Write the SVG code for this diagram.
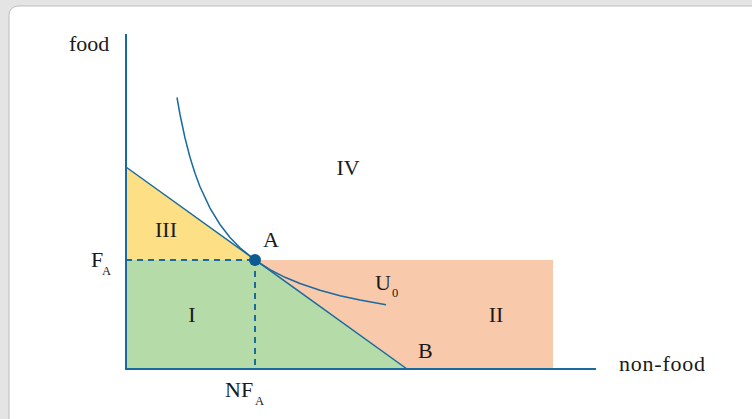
<svg xmlns="http://www.w3.org/2000/svg" width="752" height="419" viewBox="0 0 752 419">
<style>
.t{font-family:"Liberation Serif","DejaVu Serif",serif;fill:#1a1a1a;font-size:22px}
.s{font-family:"Liberation Serif","DejaVu Serif",serif;fill:#1a1a1a;font-size:12.5px}
.ln{stroke:#1a6a9e;stroke-width:1.5;fill:none}
.ax{stroke:#1a6a9e;stroke-width:2;fill:none}
.dash{stroke:#1a6a9e;stroke-width:2;stroke-dasharray:6 5;fill:none}
</style>
<rect x="0" y="0" width="752" height="419" fill="#e4e4e4"/>
<rect x="9" y="6" width="770" height="440" rx="9" fill="#ffffff" stroke="#bdbdbd" stroke-width="1"/>
<g id="regions">
<polygon id="region-III" points="126,167 255,260 126,260" fill="#fde085"/>
<polygon id="region-I" points="126,260 255,260 407,369 126,369" fill="#b5dba8"/>
<polygon id="region-II" points="255,260 553,260 553,369 407,369" fill="#f9c9ac"/>
</g>
<g id="connectors">
<line class="dash" x1="126" y1="260" x2="255" y2="260"/>
<line class="dash" x1="255" y1="260" x2="255" y2="369"/>
<line id="budget" class="ln" x1="126" y1="167" x2="407" y2="369"/>
<polyline id="U0-curve" class="ln" points="177,97.5 180,114.5 185,138 190,157.2 195,173.2 200,186.7 210,208.1 220,224.5 230,237.4 240,247.8 255,260.1 270,269.6 285,277.3 300,283.5 320,290.3 340,295.7 360,300.1 386,304.8"/>
<line id="y-axis" class="ax" x1="126" y1="34" x2="126" y2="370"/>
<line id="x-axis" class="ax" x1="125" y1="369" x2="596" y2="369"/>
</g>
<g id="point-A"><circle cx="255" cy="260" r="6" fill="#0d5c91"/><text class="t" x="263" y="247">A</text></g>
<g id="label-food"><text class="t" x="69" y="51">food</text></g>
<g id="label-nonfood"><text class="t" x="619" y="371" textLength="86">non-food</text></g>
<g id="label-IV"><text class="t" x="348" y="175" text-anchor="middle">IV</text></g>
<g id="label-III"><text class="t" x="166" y="237" text-anchor="middle">III</text></g>
<g id="label-I"><text class="t" x="192" y="322" text-anchor="middle">I</text></g>
<g id="label-II"><text class="t" x="496" y="322" text-anchor="middle">II</text></g>
<g id="label-B"><text class="t" x="418" y="358">B</text></g>
<g id="label-FA"><text class="t" x="91" y="267">F</text><text class="s" x="102" y="275">A</text></g>
<g id="label-U0"><text class="t" x="375" y="290">U</text><text class="s" x="392" y="297">0</text></g>
<g id="label-NFA"><text class="t" x="225" y="397">NF</text><text class="s" x="255" y="405">A</text></g>
</svg>
